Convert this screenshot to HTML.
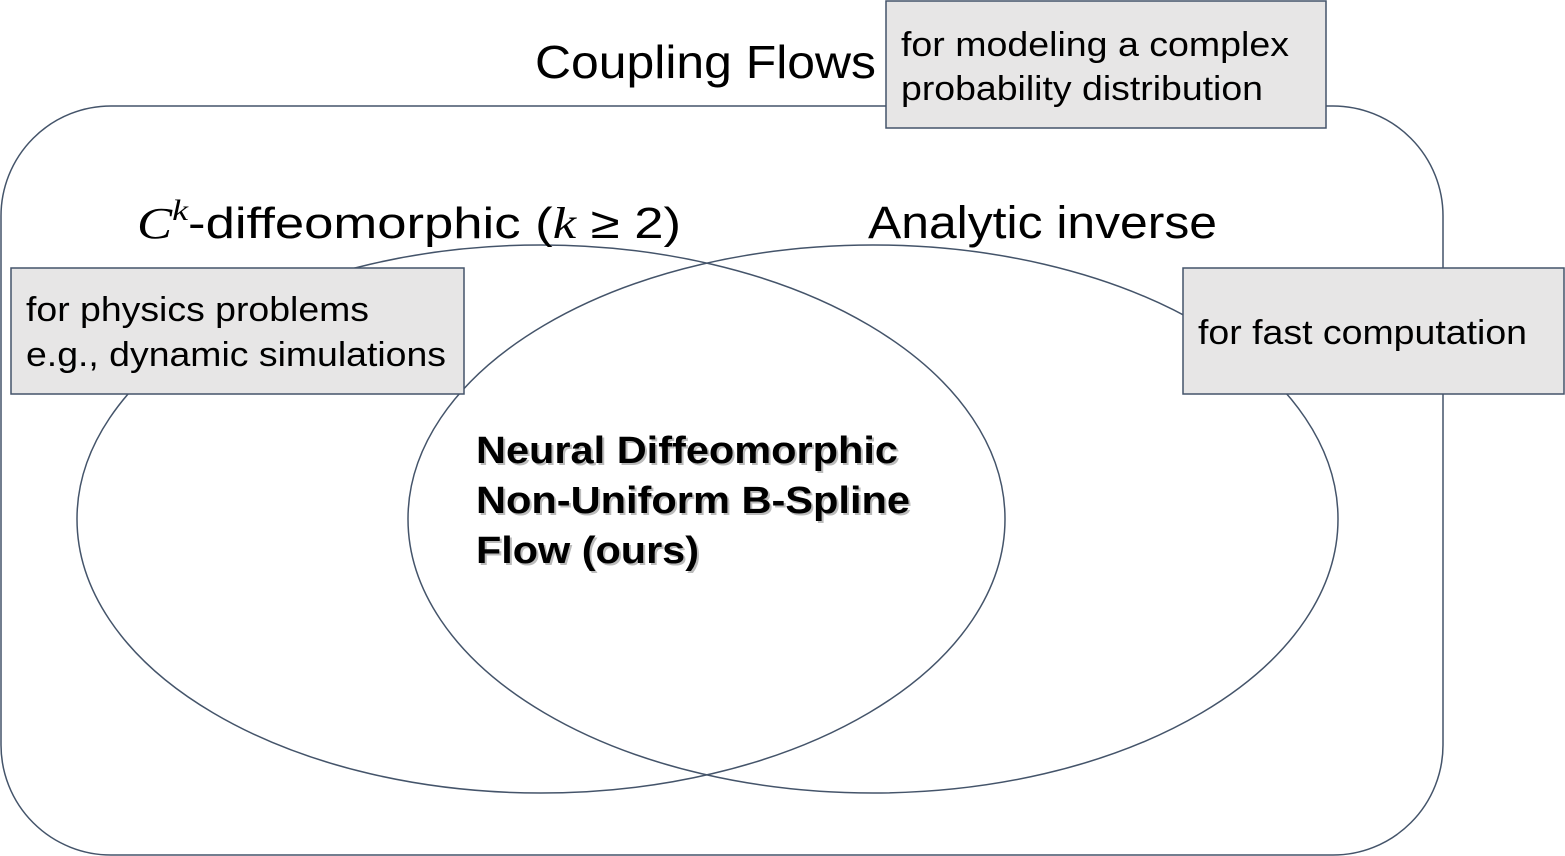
<!DOCTYPE html>
<html><head><meta charset="utf-8"><style>
html,body{margin:0;padding:0;background:#fff;}
svg{display:block;}
text{font-family:"Liberation Sans",Arial,sans-serif;fill:#000;}
</style></head><body>
<svg width="1565" height="856" viewBox="0 0 1565 856" xmlns="http://www.w3.org/2000/svg">
<rect x="1" y="106" width="1442" height="749" rx="110" ry="110" fill="#fff" stroke="#44546a" stroke-width="1.5"/>
<ellipse cx="541" cy="519" rx="464" ry="274" fill="none" stroke="#44546a" stroke-width="1.5"/>
<ellipse cx="873" cy="519" rx="465" ry="274" fill="none" stroke="#44546a" stroke-width="1.5"/>
<text x="535" y="78" font-size="46" textLength="341" lengthAdjust="spacingAndGlyphs">Coupling Flows</text>
<text x="137" y="238" font-size="44" textLength="544" lengthAdjust="spacingAndGlyphs"><tspan font-family="Liberation Serif,serif" font-style="italic">C</tspan><tspan font-family="Liberation Serif,serif" font-style="italic" font-size="30" dy="-18">k</tspan><tspan dy="18">-diffeomorphic (</tspan><tspan font-family="Liberation Serif,serif" font-style="italic">k</tspan><tspan> ≥ 2)</tspan></text>
<text x="868" y="238" font-size="45" textLength="349" lengthAdjust="spacingAndGlyphs">Analytic inverse</text>
<rect x="886" y="1" width="440" height="127" fill="#e7e6e6" stroke="#44546a" stroke-width="1.5"/>
<text x="901" y="56" font-size="34" textLength="388" lengthAdjust="spacingAndGlyphs">for modeling a complex</text>
<text x="901" y="100" font-size="34" textLength="362" lengthAdjust="spacingAndGlyphs">probability distribution</text>
<rect x="11" y="268" width="453" height="126" fill="#e7e6e6" stroke="#44546a" stroke-width="1.5"/>
<text x="26" y="321" font-size="34" textLength="343" lengthAdjust="spacingAndGlyphs">for physics problems</text>
<text x="26" y="366" font-size="34" textLength="420" lengthAdjust="spacingAndGlyphs">e.g., dynamic simulations</text>
<rect x="1183" y="268" width="381" height="126" fill="#e7e6e6" stroke="#44546a" stroke-width="1.5"/>
<text x="1198" y="344" font-size="34" textLength="329" lengthAdjust="spacingAndGlyphs">for fast computation</text>
<g font-size="38" font-weight="bold">
<text x="478" y="465" style="fill:#bbb" textLength="422" lengthAdjust="spacingAndGlyphs">Neural Diffeomorphic</text>
<text x="478" y="515" style="fill:#bbb" textLength="434" lengthAdjust="spacingAndGlyphs">Non-Uniform B-Spline</text>
<text x="478" y="565" style="fill:#bbb" textLength="223" lengthAdjust="spacingAndGlyphs">Flow (ours)</text>
<text x="476" y="463" textLength="422" lengthAdjust="spacingAndGlyphs">Neural Diffeomorphic</text>
<text x="476" y="513" textLength="434" lengthAdjust="spacingAndGlyphs">Non-Uniform B-Spline</text>
<text x="476" y="563" textLength="223" lengthAdjust="spacingAndGlyphs">Flow (ours)</text>
</g>
</svg>
</body></html>
